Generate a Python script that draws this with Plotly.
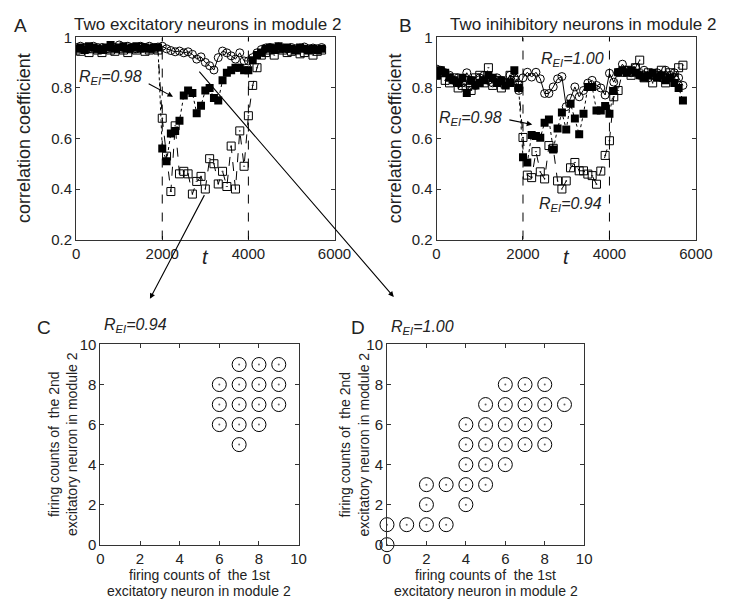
import plotly.graph_objects as go

# ---------------- data ----------------
t = list(range(0, 5800, 100))

A_r100 = [0.96,0.965,0.96,0.955,0.965,0.96,0.96,0.955,0.965,0.96,0.97,0.96,0.965,0.96,0.955,0.965,0.96,0.965,0.96,0.962,
          0.965,0.955,0.948,0.943,0.946,0.939,0.943,0.933,0.914,0.923,0.901,0.888,0.871,0.92,0.946,0.939,0.927,0.914,0.939,0.907,0.907,0.92,0.939,0.952,
          0.958,0.96,0.955,0.962,0.958,0.955,0.96,0.955,0.958,0.962,0.955,0.958,0.955,0.96]
A_r098 = [0.955,0.96,0.95,0.965,0.96,0.955,0.95,0.96,0.97,0.955,0.96,0.965,0.955,0.96,0.965,0.955,0.96,0.955,0.96,0.96,
          0.56,0.51,0.62,0.63,0.67,0.77,0.79,0.78,0.70,0.73,0.79,0.80,0.76,0.75,0.83,0.86,0.87,0.88,0.88,0.87,0.87,0.91,0.93,0.94,
          0.955,0.96,0.95,0.965,0.955,0.96,0.955,0.95,0.96,0.955,0.95,0.955,0.95,0.955]
A_r094 = [0.95,0.945,0.955,0.94,0.955,0.95,0.94,0.955,0.95,0.945,0.955,0.95,0.94,0.955,0.95,0.96,0.945,0.95,0.955,0.95,
          0.68,0.53,0.39,0.65,0.46,0.47,0.46,0.38,0.43,0.45,0.40,0.52,0.50,0.42,0.47,0.41,0.57,0.40,0.63,0.49,0.69,0.81,0.88,0.93,
          0.94,0.95,0.93,0.955,0.95,0.94,0.945,0.95,0.935,0.94,0.95,0.93,0.945,0.95]

B_r100 = [0.875,0.87,0.86,0.85,0.83,0.84,0.82,0.86,0.83,0.81,0.84,0.85,0.83,0.82,0.84,0.83,0.82,0.85,0.84,0.79,
          0.84,0.862,0.843,0.862,0.836,0.778,0.778,0.804,0.836,0.845,0.726,0.759,0.804,0.765,0.79,0.819,0.83,0.81,0.80,0.772,0.858,0.823,0.862,0.894,
          0.87,0.86,0.88,0.85,0.87,0.84,0.85,0.86,0.84,0.87,0.85,0.86,0.84,0.81]
B_r098 = [0.85,0.87,0.86,0.84,0.83,0.82,0.84,0.78,0.83,0.81,0.82,0.83,0.85,0.84,0.82,0.83,0.81,0.82,0.87,0.80,
          0.526,0.505,0.614,0.61,0.603,0.662,0.675,0.556,0.639,0.703,0.636,0.737,0.679,0.617,0.698,0.804,0.804,0.711,0.711,0.729,0.698,0.788,0.862,0.87,
          0.86,0.87,0.86,0.85,0.84,0.85,0.86,0.84,0.85,0.83,0.84,0.82,0.80,0.75]
B_r094 = [0.85,0.86,0.83,0.82,0.84,0.80,0.81,0.83,0.79,0.84,0.85,0.82,0.88,0.81,0.83,0.80,0.82,0.85,0.83,0.81,
          0.604,0.455,0.445,0.548,0.468,0.44,0.572,0.561,0.432,0.40,0.432,0.484,0.505,0.472,0.472,0.459,0.453,0.419,0.471,0.533,0.591,0.765,0.79,0.862,
          0.87,0.85,0.88,0.91,0.84,0.86,0.82,0.85,0.87,0.82,0.86,0.84,0.88,0.89]

C_x = [7, 8, 9, 6, 7, 8, 9, 6, 7, 8, 9, 6, 7, 8, 7]
C_y = [9, 9, 9, 8, 8, 8, 8, 7, 7, 7, 7, 6, 6, 6, 5]

D_x = [6, 7, 8, 5, 6, 7, 8, 9, 4, 5, 6, 7, 8, 4, 5, 6, 7, 8, 4, 5, 6, 2, 3, 4, 5, 2, 4, 0, 1, 2, 3, 0]
D_y = [8, 8, 8, 7, 7, 7, 7, 7, 6, 6, 6, 6, 6, 5, 5, 5, 5, 5, 4, 4, 4, 3, 3, 3, 3, 2, 2, 1, 1, 1, 1, 0]

tick_t = [0, 2000, 4000, 6000]
tick_r = [0.2, 0.4, 0.6, 0.8, 1.0]
tick_r_text = ["0.2", "0.4", "0.6", "0.8", "1"]
tick_c = [0, 2, 4, 6, 8, 10]

# ---------------- layout helpers ----------------
W, H = 736, 603
def px(x): return x / W
def py(y): return 1 - y / H

FONT = "Liberation Sans, Arial, sans-serif"
LC = "#333333"
TC = "#222222"

fig = go.Figure()

def add_series(xa, ya, r100, r098, r094):
    fig.add_trace(go.Scatter(x=t, y=r100, xaxis=xa, yaxis=ya, mode="lines+markers",
                             line=dict(color="black", width=1),
                             marker=dict(symbol="circle-open", size=8, color="black", line=dict(width=1)),
                             showlegend=False))
    fig.add_trace(go.Scatter(x=t, y=r094, xaxis=xa, yaxis=ya, mode="lines+markers",
                             line=dict(color="black", width=1, dash="dash"),
                             marker=dict(symbol="square-open-dot", size=8, color="black", line=dict(width=1)),
                             showlegend=False))
    fig.add_trace(go.Scatter(x=t, y=r098, xaxis=xa, yaxis=ya, mode="lines+markers",
                             line=dict(color="black", width=1, dash="dot"),
                             marker=dict(symbol="square", size=8, color="black"),
                             showlegend=False))

add_series("x", "y", A_r100, A_r098, A_r094)
add_series("x2", "y2", B_r100, B_r098, B_r094)

for xa, ya, xs, ys in [("x3", "y3", C_x, C_y), ("x4", "y4", D_x, D_y)]:
    fig.add_trace(go.Scatter(x=xs, y=ys, xaxis=xa, yaxis=ya, mode="markers", cliponaxis=False,
                             marker=dict(symbol="circle-open", size=14, color="black", line=dict(width=1)),
                             showlegend=False))
    fig.add_trace(go.Scatter(x=xs, y=ys, xaxis=xa, yaxis=ya, mode="markers", cliponaxis=False,
                             marker=dict(symbol="circle", size=2, color="#666666"),
                             showlegend=False))

# panel pixel frames (left, right, top, bottom)
frames = {
    "A": (66, 332, 21, 229),
    "B": (437, 704, 21, 229),
    "C": (91, 295, 337, 543),
    "D": (386, 589, 337, 543),
}

def axis_common(**kw):
    d = dict(showline=True, linecolor=LC, linewidth=1, mirror="ticks", ticks="inside",
             ticklen=4, tickcolor=LC, showgrid=False, zeroline=False,
             tickfont=dict(family=FONT, size=15, color=TC))
    d.update(kw)
    return d

layout = dict(width=W, height=H, margin=dict(l=0, r=0, t=0, b=0),
              plot_bgcolor="white", paper_bgcolor="white", showlegend=False)

names = [("A", "xaxis", "yaxis", "x", "y"), ("B", "xaxis2", "yaxis2", "x2", "y2"),
         ("C", "xaxis3", "yaxis3", "x3", "y3"), ("D", "xaxis4", "yaxis4", "x4", "y4")]
for key, xn, yn, xid, yid in names:
    x0, x1, y0, y1 = frames[key]
    if key in ("A", "B"):
        layout[xn] = axis_common(domain=[px(x0), px(x1)], range=[0, 6000], tickvals=tick_t, anchor=yid)
        layout[yn] = axis_common(domain=[py(y1), py(y0)], range=[0.2, 1.0], tickvals=tick_r,
                                 ticktext=tick_r_text, anchor=xid)
    else:
        layout[xn] = axis_common(domain=[px(x0), px(x1)], range=[0, 10], tickvals=tick_c, anchor=yid)
        layout[yn] = axis_common(domain=[py(y1), py(y0)], range=[0, 10], tickvals=tick_c, anchor=xid)
fig.update_layout(**layout)

# dashed vertical lines
for xid, yid in [("x", "y"), ("x2", "y2")]:
    for tv in (2000, 4000):
        fig.add_shape(type="line", xref=xid, yref=yid, x0=tv, x1=tv, y0=0.2, y1=1.0,
                      line=dict(color="black", width=1, dash="dash"))

ann = []
def text(x, y, s, size=15, xanchor="center", yanchor="middle", angle=0, xref="paper", yref="paper"):
    ann.append(dict(x=x, y=y, xref=xref, yref=yref, text=s, showarrow=False, xanchor=xanchor,
                    yanchor=yanchor, textangle=angle, font=dict(family=FONT, size=size, color=TC)))

def rei(v):
    return "<i>R</i><sub><i>EI</i></sub><i>=%s</i>" % v

# panel letters and titles
text(px(9), py(9), "A", size=19)
text(px(405), py(9), "B", size=19)
text(px(33), py(320), "C", size=19)
text(px(356), py(320), "D", size=19)
text(px(201), py(8), "Two excitatory neurons in module 2", size=17)
text(px(588), py(8), "Two inihibitory neurons in module 2", size=17)

# y titles of A, B
text(px(13), py(125), "correlation coefficient", size=18, angle=-90)
text(px(395), py(125), "correlation coefficient", size=18, angle=-90)
# t labels
text(3000, py(247), "<i>t</i>", size=20, xref="x")
text(3000, py(247), "<i>t</i>", size=20, xref="x2")

# R_EI labels
text(1570, 0.84, rei("0.98"), size=16, xanchor="right", xref="x", yref="y")
text(3150, 0.913, rei("1.00"), size=16, xref="x2", yref="y2")
text(1570, 0.68, rei("0.98"), size=16, xanchor="right", xref="x2", yref="y2")
text(3100, 0.34, rei("0.94"), size=16, xref="x2", yref="y2")
text(px(93), py(317), rei("0.94"), size=16, xanchor="left")
text(px(388), py(319), rei("1.00"), size=16, xanchor="left")

# C/D axis titles
for (x0, x1, y0, y1), ylab_x in [(frames["C"], 52), (frames["D"], 352)]:
    text(px((x0 + x1) / 2), py(574), "firing counts of  the 1st", size=14)
    text(px((x0 + x1) / 2), py(591), "excitatory neuron in module 2", size=14)
    text(px(ylab_x), py((y0 + y1) / 2), "firing counts of  the 2nd<br>excitatory neuron in module 2",
         size=14, angle=-90)

# short arrows
arrow = dict(showarrow=True, arrowhead=2, arrowsize=1, arrowwidth=1.1, arrowcolor="black", text="")
ann.append(dict(arrow, x=2250, y=0.765, xref="x", yref="y", ax=1650, ay=0.82, axref="x", ayref="y"))
ann.append(dict(arrow, x=2214, y=0.655, xref="x2", yref="y2", ax=1650, ay=0.675, axref="x2", ayref="y2"))

# long arrows from panel A to panels C and D (start points in data units of panel A)
def a_px(tv, rv):
    x0, x1, y0, y1 = frames["A"]
    return x0 + tv / 6000 * (x1 - x0), y0 + (1.0 - rv) / 0.8 * (y1 - y0)
sx, sy = a_px(2960, 0.845)
ann.append(dict(arrow, x=px(393), y=py(288), xref="paper", yref="paper", ax=sx - 393, ay=sy - 288))
sx, sy = a_px(2960, 0.37)
ann.append(dict(arrow, x=px(142), y=py(290), xref="paper", yref="paper", ax=sx - 142, ay=sy - 290))

fig.update_layout(annotations=ann)
fig.write_html("out.html")
